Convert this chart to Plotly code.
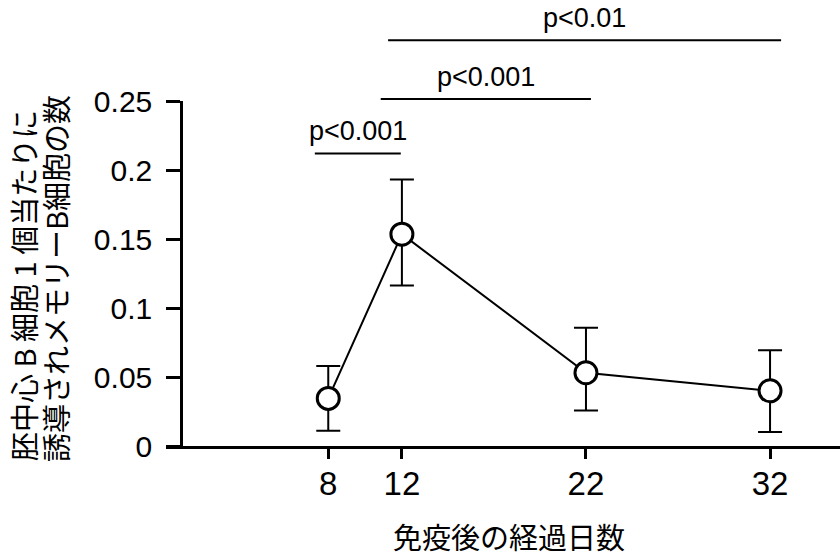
import plotly.graph_objects as go

# ---- data ----
days = [8, 12, 22, 32]
mean_counts = [0.0345, 0.1535, 0.0531, 0.0400]
err_plus = [0.0234, 0.0396, 0.0326, 0.0293]
err_minus = [0.0234, 0.0372, 0.0273, 0.0299]

x_tick_vals = [8, 12, 22, 32]
x_tick_text = ["8", "12", "22", "32"]
y_tick_vals = [0, 0.05, 0.1, 0.15, 0.2, 0.25]
y_tick_text = ["0", "0.05", "0.1", "0.15", "0.2", "0.25"]

bracket_start = [7.27, 10.85, 11.25]
bracket_end = [11.94, 22.27, 32.6]
bracket_level = [0.212, 0.2515, 0.294]
bracket_label = ["p<0.001", "p<0.001", "p<0.01"]

x_title = "免疫後の経過日数"
y_title_lines = ["胚中心 B 細胞 1 個当たりに", "誘導されメモリーB細胞の数"]

# ---- layout constants ----
W, H = 840, 557
ML, MR, MT, MB = 166, 0, 101, 111
X_RANGE = [-0.815, 35.8]
Y_RANGE = [0, 0.25]
LAT = "Liberation Sans, Arial, sans-serif"
CJK = "Noto Sans CJK JP, sans-serif"

fig = go.Figure()
fig.add_trace(go.Scatter(
    x=days, y=mean_counts,
    mode="lines+markers",
    line=dict(color="black", width=2),
    marker=dict(size=22, color="white", line=dict(color="black", width=3)),
    error_y=dict(type="data", symmetric=False, array=err_plus, arrayminus=err_minus,
                 color="black", thickness=2, width=12),
    showlegend=False, cliponaxis=False, hoverinfo="skip",
))

def to_paper_y(v):
    return (v - Y_RANGE[0]) / (Y_RANGE[1] - Y_RANGE[0])

shapes = []
annotations = []
for x0, x1, lvl, lab in zip(bracket_start, bracket_end, bracket_level, bracket_label):
    py = to_paper_y(lvl)
    shapes.append(dict(type="line", xref="x", yref="paper", x0=x0, x1=x1, y0=py, y1=py,
                       line=dict(color="black", width=2)))
    annotations.append(dict(xref="x", yref="paper", x=(x0 + x1) / 2, y=py, text=lab,
                            showarrow=False, xanchor="center", yanchor="middle", yshift=22,
                            font=dict(family=LAT, size=27, color="black")))

# axis titles
plot_w = W - ML - MR
plot_h = H - MT - MB
for line_text, cx, cy in zip(y_title_lines, [23, 55], [286, 279]):
    annotations.append(dict(xref="paper", yref="paper",
                            x=(cx - ML) / plot_w, y=(H - MB - cy) / plot_h,
                            text=line_text, textangle=-90, showarrow=False,
                            xanchor="center", yanchor="middle",
                            font=dict(family=CJK, size=29, color="black")))
annotations.append(dict(xref="paper", yref="paper",
                        x=(509 - ML) / plot_w, y=(H - MB - 536) / plot_h,
                        text=x_title, showarrow=False, xanchor="center", yanchor="middle",
                        font=dict(family=CJK, size=29, color="black")))

fig.update_layout(
    width=W, height=H,
    margin=dict(l=ML, r=MR, t=MT, b=MB, pad=0),
    paper_bgcolor="white", plot_bgcolor="white",
    shapes=shapes, annotations=annotations,
    xaxis=dict(range=X_RANGE, showline=True, linecolor="black", linewidth=2.5,
               ticks="outside", ticklen=10, tickwidth=2.5, tickcolor="black",
               tickvals=x_tick_vals, ticktext=x_tick_text, ticklabelstandoff=-3,
               tickfont=dict(family=LAT, size=33, color="black"),
               showgrid=False, zeroline=False),
    yaxis=dict(range=Y_RANGE, anchor="free", position=(0 - X_RANGE[0]) / (X_RANGE[1] - X_RANGE[0]),
               showline=True, linecolor="black", linewidth=2.5,
               ticks="outside", ticklen=14, tickwidth=2.5, tickcolor="black",
               tickvals=y_tick_vals, ticktext=y_tick_text, ticklabelstandoff=8,
               tickfont=dict(family=LAT, size=30, color="black"),
               showgrid=False, zeroline=False),
)

fig.write_html("out.html", config={"displayModeBar": False},
               post_script="document.body.style.margin='0px';document.body.style.overflow='hidden';")
